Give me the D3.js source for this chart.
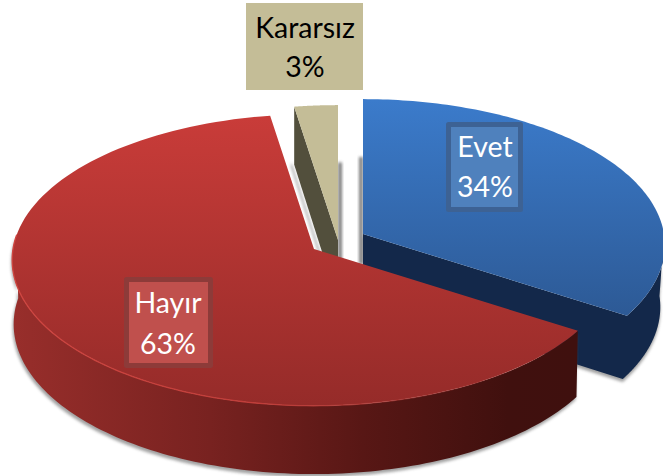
<!DOCTYPE html>
<html><head><meta charset="utf-8"><script src="https://cdn.jsdelivr.net/npm/d3@7"></script>
<style>html,body{margin:0;padding:0;background:#fff}svg{display:block}</style></head>
<body><svg id="c" width="663" height="476"></svg>
<script>
const categories = ["Evet", "Hayır", "Kararsız"];
const percentValues = [34.1, 63.4, 2.5];
const percentLabels = ["34%", "63%", "3%"];

const svg = d3.select("#c");
const defs = svg.append("defs");
const Rx = 301, Ry = 145, P = 0.075;
const layout = {
  "Evet": {cx:363, cy:234, d:62, bs:0.985, top:["#3b7bcb","#2d5a96"], y:[100,313], wall:"#13284a",
           box:[446,122,77,90], fill:"#4f81bd", border:"#3d6294", text:"#fff", tx:485, l0:35, step:40},
  "Hayır": {cx:314, cy:249, d:64, bs:0.995, top:["#c93c39","#952b29"], y:[115,407], wall:"#3c0f0d",
           side:[["0","#982e2b"],["0.35","#782220"],["0.62","#581715"],["0.88","#40100e"],["1","#3f100e"]],
           box:[124,277,89,91], fill:"#c0504d", border:"#8d3b39", text:"#fff", tx:168, l0:36, step:41},
  "Kararsız": {cx:338, cy:240, d:62, bs:1, top:["#c4bd97","#c4bd97"], y:[100,300], wall:"#524f3c",
           box:[246,3,117,87], fill:"#c4bd97", border:null, text:"#000", tx:305, l0:35, step:39}
};
const pie = d3.pie().sort(null).startAngle(0).endAngle(2*Math.PI);
const arcs = pie(percentValues);
function proj(c, a, r=1, dz=0) {
  const u = r*Math.sin(a), v = -r*Math.cos(a), w = 1 - P*v;
  return [c.cx + Rx*u/w, c.cy + Ry*v/w + dz/w];
}
const line = d3.line();
function samples(a0, a1) { const n = 120; return d3.range(n+1).map(i => a0 + (a1-a0)*i/n); }
defs.append("filter").attr("id","blur").attr("x","-30%").attr("y","-30%").attr("width","160%").attr("height","160%")
  .append("feGaussianBlur").attr("stdDeviation",1.8);

function grad(id, stops, vertical, y0, y1) {
  const g = defs.append("linearGradient").attr("id",id).attr("gradientUnits","userSpaceOnUse");
  if (vertical) g.attr("x1",0).attr("x2",0).attr("y1",y0).attr("y2",y1);
  else g.attr("x1",y0).attr("x2",y1).attr("y1",0).attr("y2",0);
  stops.forEach(s => g.append("stop").attr("offset",s[0]).attr("stop-color",s[1]).attr("stop-opacity",s[2]===undefined?1:s[2]));
}
const shadow = (g, pts, dx, dy, op) => g.append("path").attr("d",line(pts)+"Z").attr("fill","#555").attr("opacity",op)
  .attr("filter","url(#blur)").attr("transform",`translate(${dx},${dy})`);
const order = [2,0,1];
order.forEach(i => {
  const a = arcs[i], name = categories[i], c = layout[name];
  const g = svg.append("g");
  grad("t"+i, [["0",c.top[0]],["1",c.top[1]]], true, c.y[0], c.y[1]);
  const top = [[c.cx,c.cy], ...samples(a.startAngle,a.endAngle).map(t=>proj(c,t))];
  if (i === 1) {
    const rim = samples(a.startAngle, Math.min(a.endAngle, 3*Math.PI/2+0.1));
    const pts = [...rim.map(t=>proj(c,t)), ...rim.slice().reverse().map(t=>proj(c,t,c.bs,c.d))];
    grad("s"+i, c.side, false, c.cx-Rx, c.cx+262);
    shadow(g, pts, -1, 3, .55);
    g.append("path").attr("d",line(pts)+"Z").attr("fill","url(#s"+i+")");
  }
  if (i === 0) {
    const rim = samples(a.endAngle, Math.PI/2);
    const pts = [[c.cx,c.cy], ...rim.map(t=>proj(c,t)),
      ...rim.slice().reverse().map(t=>proj(c,t,c.bs,c.d)), [c.cx,c.cy+c.d]];
    shadow(g, [[c.cx-4,c.cy-77],[c.cx,c.cy-77],[c.cx,c.cy+30],[c.cx-4,c.cy+30]], 0, 0, .75);
    shadow(g, pts, 0, 3, .55);
    g.append("path").attr("d",line(pts)+"Z").attr("fill",c.wall);
  }
  if (i === 2) {
    const o = proj(c,a.startAngle), oB = proj(c,a.startAngle,1,c.d);
    const wall = [o,[c.cx,c.cy],[c.cx,c.cy+c.d],oB];
    shadow(g, [[oB[0],oB[1]-2],[oB[0],oB[1]+2],[c.cx,c.cy+c.d+2],[c.cx,c.cy+c.d-2]], -3, 0, .8);
    shadow(g, [[c.cx,oB[1]-2],[c.cx+4,oB[1]-2],[c.cx+4,c.cy+26],[c.cx,c.cy+26]], 0, 0, .75);
    g.append("path").attr("d",line(wall)+"Z").attr("fill",c.wall);
  }
  g.append("path").attr("d",line(top)+"Z").attr("fill","url(#t"+i+")");
  if (i === 1) {
    const rim = samples(a.startAngle, Math.min(a.endAngle, 3*Math.PI/2+0.1));
    grad("r"+i, [["0","#cf4540",1],["0.45","#c03d39",1],["0.75","#b03733",.4],["1","#b03733",0]], false, c.cx-Rx, c.cx+262);
    g.append("path").attr("d",line(rim.map(t=>proj(c,t)))).attr("fill","none").attr("stroke","url(#r"+i+")").attr("stroke-width",1.3);
  }
});
// data labels
order.forEach(i => {
  const name = categories[i], c = layout[name], [x,y,w,h] = c.box;
  const g = svg.append("g");
  const s = c.border ? 5 : 0;
  g.append("rect").attr("x",x+s/2).attr("y",y+s/2).attr("width",w-s).attr("height",h-s)
    .attr("fill",c.fill).attr("stroke",c.border||"none").attr("stroke-width",s).attr("stroke-linejoin","round");
  [name, percentLabels[i]].forEach((t,k) => g.append("text")
    .attr("x",c.tx).attr("y",y+c.l0+k*c.step).attr("text-anchor","middle")
    .attr("font-family","Lato, 'Open Sans', sans-serif").attr("font-size",28.5)
    .attr("fill",c.text).text(t));
});
</script></body></html>
